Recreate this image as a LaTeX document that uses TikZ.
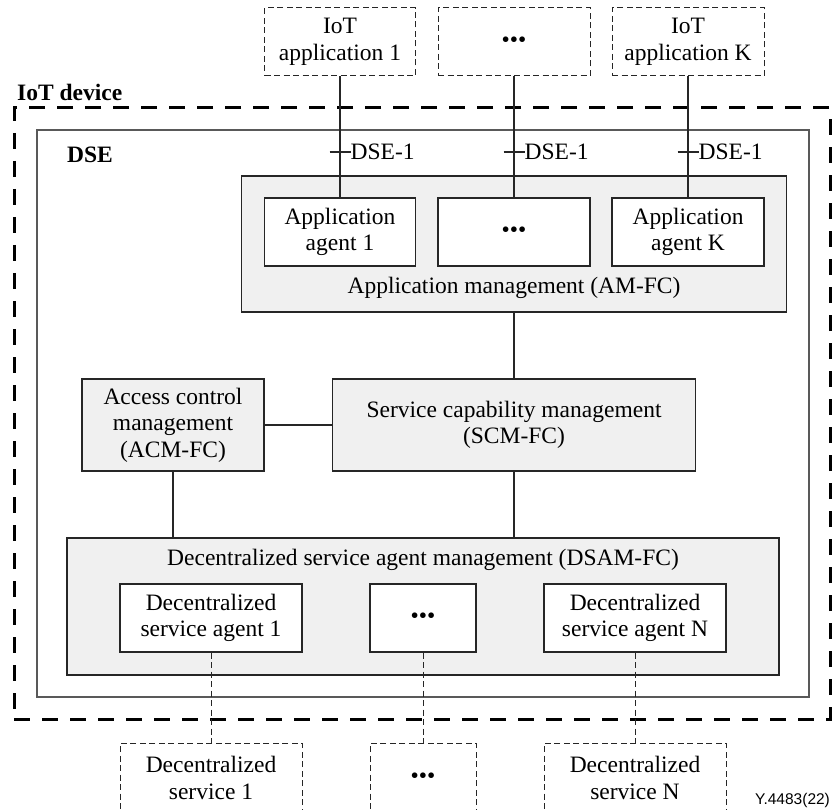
\documentclass[tikz,border=0pt]{standalone}
\usepackage{fontspec}
\setmainfont{Liberation Serif}
\newfontfamily\figsans{Liberation Sans}
\begin{document}
\begin{tikzpicture}[x=1pt,y=-1pt,
  txt/.style={font=\fontsize{23.5}{26.5}\selectfont, align=center, inner sep=0pt},
  btxt/.style={font=\fontsize{23.5}{27}\selectfont\bfseries, inner sep=0pt},
  fcbox/.style={draw=black!85, line width=1.3pt, fill=black!6, inner sep=0pt, txt},
  agentbox/.style={draw=black!85, line width=1.3pt, fill=white, txt},
  extbox/.style={draw=black!85, line width=1pt, dash pattern=on 6pt off 3.5pt, fill=white, txt},
  devbox/.style={draw=black, line width=3pt, dash pattern=on 16pt off 12pt, inner sep=0pt},
  dsebox/.style={draw=black!65, line width=1.2pt, fill=white, inner sep=0pt},
  link/.style={draw=black!85, line width=1.3pt},
  dlink/.style={draw=black!85, line width=1pt, dash pattern=on 6pt off 3.5pt}
]
\useasboundingbox (0,0) rectangle (832,810);

% containers
\node[devbox, minimum width=816, minimum height=611] (dev) at (422,413.5) {};
\node[btxt, anchor=west] (devlbl) at (17,92) {IoT device};
\node[dsebox, minimum width=772, minimum height=567] (dse) at (423,413.5) {};
\node[btxt, anchor=west] (dselbl) at (67,155) {DSE};

% application management
\node[fcbox, minimum width=545, minimum height=136] (am) at (514,244) {};
\node[txt] (amlbl) at (514,288) {Application management (AM-FC)};
\node[agentbox, minimum width=151, minimum height=68] (aa1) at (340,232) {Application\\agent 1};
\node[agentbox, minimum width=152, minimum height=68] (aa2) at (514,232) {\textbullet\textbullet\textbullet};
\node[agentbox, minimum width=152, minimum height=68] (aa3) at (688,232) {Application\\agent K};

% IoT applications
\node[extbox, minimum width=151, minimum height=68] (app1) at (340,42) {IoT\\application 1};
\node[extbox, minimum width=152, minimum height=68] (app2) at (514,42) {\textbullet\textbullet\textbullet};
\node[extbox, minimum width=152, minimum height=68] (app3) at (688,42) {IoT\\application K};

% ACM and SCM
\node[fcbox, minimum width=182, minimum height=92] (acm) at (173,425) {Access control\\management\\(ACM-FC)};
\node[fcbox, minimum width=363, minimum height=92] (scm) at (514,425) {Service capability management\\(SCM-FC)};

% DSAM
\node[fcbox, minimum width=712, minimum height=137] (dsam) at (423,606.5) {};
\node[txt] (dsamlbl) at (423,560) {Decentralized service agent management (DSAM-FC)};
\node[agentbox, minimum width=182, minimum height=68] (dsa1) at (211,618) {Decentralized\\service agent 1};
\node[agentbox, minimum width=106, minimum height=68] (dsa2) at (423,618) {\textbullet\textbullet\textbullet};
\node[agentbox, minimum width=182, minimum height=68] (dsa3) at (635,618) {Decentralized\\service agent N};

% decentralized services
\node[extbox, minimum width=182, minimum height=70] (sv1) at (211,778) {Decentralized\\service 1};
\node[extbox, minimum width=106, minimum height=70] (sv2) at (423,778) {\textbullet\textbullet\textbullet};
\node[extbox, minimum width=182, minimum height=70] (sv3) at (635,778) {Decentralized\\service N};

% figure id
\node[inner sep=0pt, anchor=west, font=\figsans\fontsize{15.5}{17}\selectfont] (figid) at (755,800) {Y.4483(22)};

% reference point labels
\node[txt, anchor=west] (rp1) at (350.5,152) {DSE-1};
\node[txt, anchor=west] (rp2) at (524.5,152) {DSE-1};
\node[txt, anchor=west] (rp3) at (698.5,152) {DSE-1};

% connectors
\draw[link] (app1.south) -- (aa1.north);
\draw[link] (app2.south) -- (aa2.north);
\draw[link] (app3.south) -- (aa3.north);
\draw[link] ([xshift=-21pt]rp1.west) -- (rp1.west);
\draw[link] ([xshift=-21pt]rp2.west) -- (rp2.west);
\draw[link] ([xshift=-21pt]rp3.west) -- (rp3.west);
\draw[link] (am.south) -- (scm.north);
\draw[link] (acm.east) -- (scm.west);
\draw[link] (acm.south) -- (acm.south |- dsam.north);
\draw[link] (scm.south) -- (scm.south |- dsam.north);
\draw[dlink] (dsa1.south) -- (sv1.north);
\draw[dlink] (dsa2.south) -- (sv2.north);
\draw[dlink] (dsa3.south) -- (sv3.north);
\end{tikzpicture}
\end{document}
